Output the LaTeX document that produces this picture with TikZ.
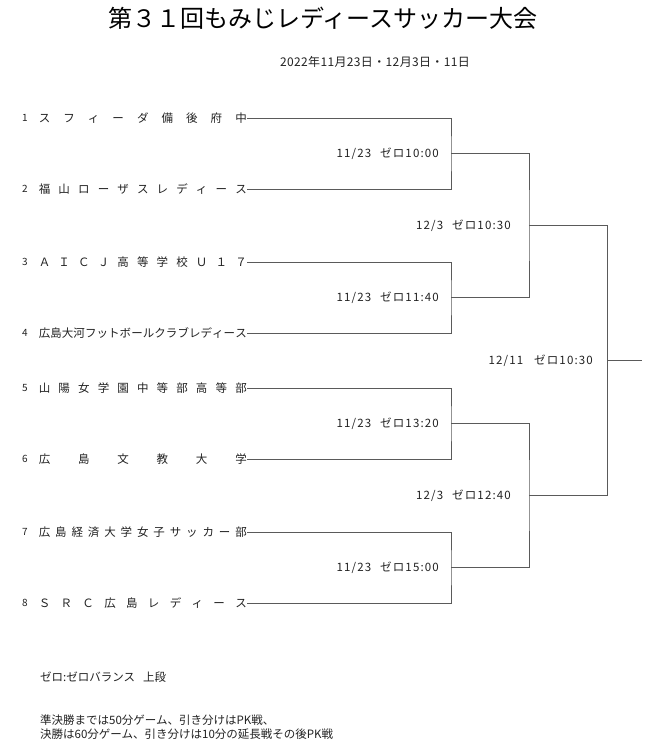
\documentclass[tikz,border=0pt]{standalone}
\usepackage{fontspec}
\setmainfont{Noto Sans CJK JP}
\usetikzlibrary{positioning}

\definecolor{linegray}{HTML}{5A5A5A}
\definecolor{inkgray}{HTML}{222222}
\tikzset{
  teamname/.style={anchor=east, inner sep=0pt, text=inkgray, font=\fontsize{11.5}{14}\selectfont},
  teamno/.style={inner sep=0pt, text=inkgray, font=\fontsize{10}{12}\selectfont},
  matchtime/.style={inner sep=0pt, text=inkgray, font=\fontsize{11.5}{13}\selectfont\addfontfeature{LetterSpace=10}},
  noteline/.style={anchor=west, inner sep=0pt, text=inkgray, font=\fontsize{11.5}{13}\selectfont},
  bracket/.style={draw=linegray, line width=0.8pt},
}
% spread the characters of a team name over the name column
\def\spreadloop#1#2{#1\ifx\relax#2\else\hfill\expandafter\spreadloop\expandafter#2\fi}
\newcommand\spreadname[1]{\makebox[208pt][s]{\expandafter\spreadloop#1\relax}}

\begin{document}
\begin{tikzpicture}[x=1pt, y=-1pt]
\useasboundingbox[fill=white] (0,0) rectangle (650,746);

\node[font=\fontsize{24}{26}\selectfont] (title) at (323,18) {第３１回もみじレディースサッカー大会};
\node[text=inkgray, font=\fontsize{12}{14}\selectfont\addfontfeature{LetterSpace=3}] (date) at (375,62) {2022年11月23日・12月3日・11日};

% teams
\foreach \i/\y/\name in {1/118/スフィーダ備後府中, 2/189/福山ローザスレディース,
    3/262/ＡＩＣＪ高等学校Ｕ１７, 4/333/広島大河フットボールクラブレディース,
    5/388/山陽女学園中等部高等部, 6/459/広島文教大学,
    7/532/広島経済大学女子サッカー部, 8/603/ＳＲＣ広島レディース} {
  \node[teamno] (n\i) at (25,\y) {\i};
  \node[teamname] (t\i) at (247,\y) {\spreadname{\name}};
}

% joins
\coordinate (j1) at (451,153.5);
\coordinate (j2) at (451,297.5);
\coordinate (j3) at (451,423.5);
\coordinate (j4) at (451,567.5);
\coordinate (s1) at (529,225.5);
\coordinate (s2) at (529,495.5);
\coordinate (f) at (607,360.5);
\coordinate (w) at (642,360.5);

\draw[bracket] (t1.east) -| (j1) |- (t2.east);
\draw[bracket] (t3.east) -| (j2) |- (t4.east);
\draw[bracket] (t5.east) -| (j3) |- (t6.east);
\draw[bracket] (t7.east) -| (j4) |- (t8.east);
\draw[bracket] (j1) -| (s1) |- (j2);
\draw[bracket] (j3) -| (s2) |- (j4);
\draw[bracket] (s1) -| (f) |- (s2);
\draw[bracket] (f) -- (w);

\node[matchtime, left=12pt of j1] (m1) {11/23\hspace{9pt}ゼロ10:00};
\node[matchtime, left=12pt of j2] (m2) {11/23\hspace{9pt}ゼロ11:40};
\node[matchtime, left=12pt of j3] (m3) {11/23\hspace{9pt}ゼロ13:20};
\node[matchtime, left=12pt of j4] (m4) {11/23\hspace{9pt}ゼロ15:00};
\node[matchtime, left=18pt of s1] (m5) {12/3\hspace{9pt}ゼロ10:30};
\node[matchtime, left=18pt of s2] (m6) {12/3\hspace{9pt}ゼロ12:40};
\node[matchtime, left=14pt of f] (m7) {12/11\hspace{11pt}ゼロ10:30};

% notes
\node[noteline] (note1) at (40,677) {ゼロ:ゼロバランス\hspace{8pt}上段};
\node[noteline] (note2) at (40,720) {準決勝までは50分ゲーム、引き分けはPK戦、};
\node[noteline] (note3) at (40,734) {決勝は60分ゲーム、引き分けは10分の延長戦その後PK戦};
\end{tikzpicture}
\end{document}
